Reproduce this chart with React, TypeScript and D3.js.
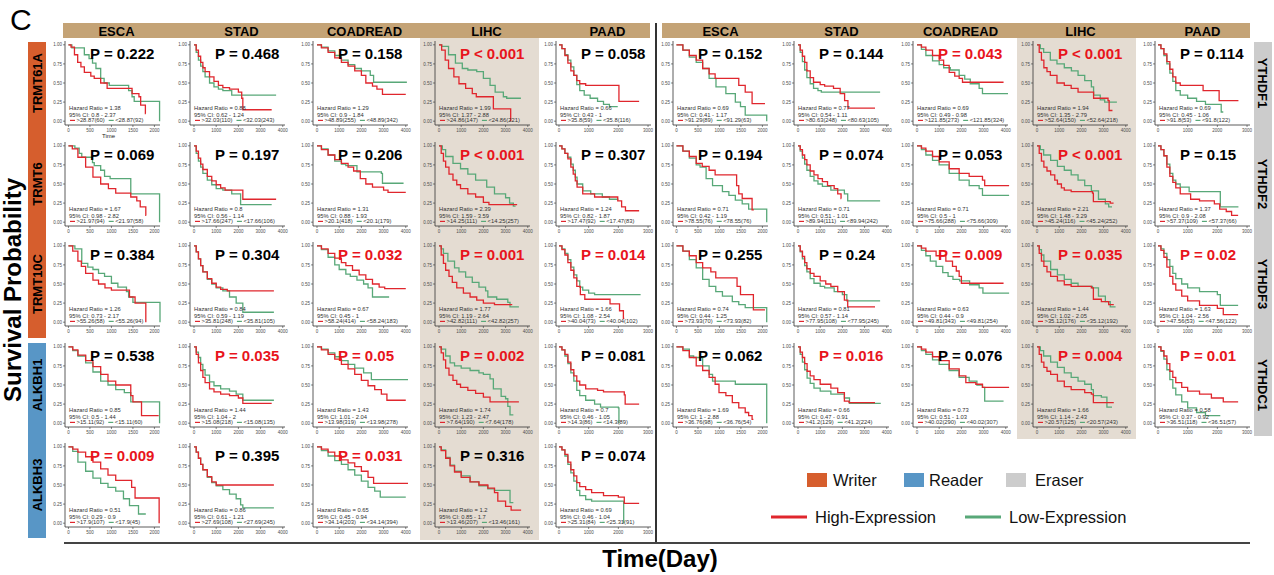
import React from "react";
import * as d3 from "d3";

// survival grid: m1A regulators x GI cancers
const cancers = ["ESCA", "STAD", "COADREAD", "LIHC", "PAAD"];
const leftGenes = ["TRMT61A", "TRMT6", "TRMT10C", "ALKBH1", "ALKBH3"];
const rightGenes = ["YTHDF1", "YTHDF2", "YTHDF3", "YTHDC1"];
const roles = ["Writer", "Reader", "Eraser"];
const groups = ["High-Expression", "Low-Expression"];

const xTickVals: Record<string, number[]> = {
  ESCA: [0, 500, 1000, 1500, 2000],
  STAD: [0, 1000, 2000, 3000, 4000],
  COADREAD: [0, 1000, 2000, 3000, 4000],
  LIHC: [0, 1000, 2000, 3000, 4000],
  PAAD: [0, 1000, 2000, 3000],
};
const yTickVals = [0, 0.25, 0.5, 0.75, 1];

const leftP = [
  ["0.222", "0.468", "0.158", "<0.001", "0.058"],
  ["0.069", "0.197", "0.206", "<0.001", "0.307"],
  ["0.384", "0.304", "0.032", "0.001", "0.014"],
  ["0.538", "0.035", "0.05", "0.002", "0.081"],
  ["0.009", "0.395", "0.031", "0.316", "0.074"],
];
const rightP = [
  ["0.152", "0.144", "0.043", "<0.001", "0.114"],
  ["0.194", "0.074", "0.053", "<0.001", "0.15"],
  ["0.255", "0.24", "0.009", "0.035", "0.02"],
  ["0.062", "0.016", "0.076", "0.004", "0.01"],
];

const leftHR = [
  ["1.38", "0.88", "1.29", "1.99", "0.66"],
  ["1.67", "0.8", "1.31", "2.39", "1.24"],
  ["1.26", "0.84", "0.67", "1.77", "1.66"],
  ["0.85", "1.44", "1.43", "1.74", "0.7"],
  ["0.51", "0.86", "0.65", "1.2", "0.69"],
];
const rightHR = [
  ["0.69", "0.77", "0.69", "1.94", "0.69"],
  ["0.71", "0.71", "0.71", "2.21", "1.37"],
  ["0.74", "0.81", "0.63", "1.44", "1.63"],
  ["1.69", "0.66", "0.73", "1.66", "0.58"],
];

const leftCI = [
  ["0.8 - 2.37", "0.62 - 1.24", "0.9 - 1.84", "1.37 - 2.88", "0.43 - 1"],
  ["0.98 - 2.82", "0.56 - 1.14", "0.88 - 1.93", "1.59 - 3.59", "0.82 - 1.87"],
  ["0.73 - 2.17", "0.59 - 1.19", "0.45 - 1", "1.19 - 2.64", "1.08 - 2.54"],
  ["0.5 - 1.44", "1.04 - 2", "1.01 - 2.04", "1.23 - 2.47", "0.46 - 1.05"],
  ["0.29 - 0.9", "0.61 - 1.21", "0.45 - 0.94", "0.85 - 1.7", "0.46 - 1.04"],
];
const rightCI = [
  ["0.41 - 1.17", "0.54 - 1.11", "0.49 - 0.98", "1.35 - 2.79", "0.45 - 1.06"],
  ["0.42 - 1.19", "0.51 - 1.01", "0.5 - 1", "1.48 - 3.29", "0.9 - 2.08"],
  ["0.44 - 1.25", "0.57 - 1.14", "0.44 - 0.9", "1.02 - 2.05", "1.04 - 2.56"],
  ["1 - 2.88", "0.47 - 0.91", "0.51 - 1.03", "1.14 - 2.43", "0.37 - 0.92"],
];

const leftCut = [
  ["28.87", "32.03", "48.89", "24.86", "35.8"],
  ["21.97", "17.66", "20.1", "14.25", "17.47"],
  ["55.26", "35.81", "58.24", "42.82", "40.04"],
  ["15.11", "15.08", "13.98", "7.64", "14.3"],
  ["17.9", "27.69", "34.14", "13.46", "25.31"],
];
const rightCut = [
  ["91.29", "80.63", "121.85", "52.64", "91.8"],
  ["78.55", "89.94", "75.66", "45.24", "57.37"],
  ["73.93", "77.95", "49.81", "35.12", "47.56"],
  ["36.76", "41.2", "40.02", "20.57", "36.51"],
];

// [high n, low n]
const leftN = [
  [[60, 92], [110, 243], [255, 342], [147, 221], [59, 116]],
  [[94, 58], [247, 106], [418, 179], [111, 257], [92, 83]],
  [[58, 94], [248, 105], [414, 183], [111, 257], [73, 102]],
  [[92, 60], [218, 135], [319, 278], [190, 178], [86, 89]],
  [[107, 45], [108, 245], [203, 394], [207, 161], [84, 91]],
];
const rightN = [
  [[89, 63], [248, 105], [273, 324], [150, 218], [53, 122]],
  [[76, 76], [111, 242], [288, 309], [116, 252], [109, 66]],
  [[70, 82], [108, 245], [343, 254], [176, 192], [53, 122]],
  [[98, 54], [129, 224], [290, 307], [125, 243], [118, 57]],
];

// KM steps: flat [day, survival, day, survival, ...], start at (0,1)
const TRMT61A_high = [
  [60, .97, 140, .87, 215, .77, 290, .71, 370, .64, 520, .59, 600, .56, 750, .5, 900, .43, 1480, .36, 1640, .32, 1680, .21, 1790, .1, 1800, .1],
  [100, .93, 200, .85, 300, .77, 400, .7, 500, .65, 700, .58, 900, .52, 1100, .47, 1300, .44, 1600, .42, 2000, .38, 2150, .3, 2200, .15, 3500, .15],
  [200, .96, 500, .9, 800, .83, 1100, .77, 1400, .72, 1700, .66, 2000, .6, 2200, .5, 2500, .46, 2700, .42, 2950, .35, 4000, .35],
  [120, .93, 280, .8, 430, .69, 670, .58, 900, .49, 1200, .43, 1500, .36, 1680, .32, 2450, .16, 3230, .16, 3230, 0],
  [100, .95, 200, .86, 300, .76, 400, .66, 500, .6, 600, .53, 700, .49, 900, .47, 2000, .47, 2020, .26, 2700, .26],
];
const TRMT61A_low = [
  [80, .96, 370, .87, 480, .82, 560, .76, 640, .69, 750, .56, 830, .5, 950, .47, 1400, .4, 1480, .32, 1530, .26, 2120, .26, 2120, 0],
  [100, .9, 200, .8, 300, .72, 400, .65, 500, .58, 700, .5, 900, .45, 1100, .42, 1300, .4, 1700, .34, 3700, .34],
  [200, .97, 500, .92, 800, .86, 1100, .8, 1400, .74, 1700, .69, 2000, .66, 2400, .6, 2550, .51, 4050, .51],
  [120, .98, 430, .87, 740, .76, 1050, .69, 1300, .67, 1700, .65, 2000, .56, 2300, .47, 2530, .38, 2900, .32, 3050, .3, 3690, .3],
  [100, .95, 200, .87, 300, .8, 400, .71, 500, .6, 600, .48, 700, .4, 850, .34, 1050, .3, 1300, .26, 1500, .22, 1700, .19, 1980, .19],
];
const TRMT6_high = [
  [90, .96, 220, .85, 400, .72, 570, .59, 750, .5, 930, .44, 1100, .38, 1420, .38, 1450, .33, 1590, .28, 1670, .2, 1800, .09, 1810, .09],
  [100, .93, 200, .84, 300, .76, 400, .69, 600, .6, 800, .54, 1000, .49, 1200, .45, 1400, .42, 1800, .42, 2200, .3, 3700, .3],
  [200, .95, 500, .88, 800, .82, 1100, .77, 1400, .72, 1650, .67, 1950, .57, 2200, .5, 2500, .46, 3000, .42, 3200, .39, 4000, .39],
  [100, .9, 200, .8, 300, .72, 450, .63, 630, .55, 800, .49, 970, .44, 1300, .37, 1650, .33, 2000, .26, 2250, .23, 3520, .23],
  [100, .96, 200, .9, 300, .83, 400, .72, 480, .63, 550, .54, 610, .46, 800, .37, 1200, .33, 1980, .28, 2110, .2, 2240, .15, 2700, .15],
];
const TRMT6_low = [
  [150, .97, 250, .9, 310, .85, 560, .78, 600, .74, 750, .68, 840, .6, 970, .57, 1420, .57, 1450, .37, 2120, .37, 2120, 0],
  [100, .9, 200, .8, 300, .72, 400, .64, 600, .55, 800, .49, 1000, .44, 1300, .42, 1700, .37, 2100, .23, 3500, .23],
  [200, .96, 500, .88, 800, .8, 1100, .76, 1300, .74, 1800, .66, 2900, .64, 2950, .51, 3900, .51],
  [150, .95, 300, .86, 630, .77, 970, .7, 1300, .63, 1650, .55, 2150, .46, 2500, .37, 3000, .32, 3180, .25, 3350, .21, 3450, .21],
  [100, .96, 200, .9, 290, .85, 400, .76, 480, .68, 550, .59, 610, .5, 800, .41, 1070, .37, 1460, .33, 1700, .3, 2000, .3],
];
const TRMT10C_high = [
  [100, .93, 220, .8, 300, .73, 400, .64, 570, .55, 700, .5, 850, .45, 1000, .42, 1400, .42, 1420, .33, 1550, .25, 1800, .25, 1800, 0],
  [100, .92, 200, .83, 300, .74, 400, .66, 600, .57, 800, .51, 1000, .46, 1200, .43, 1500, .41, 3600, .41],
  [200, .96, 500, .9, 800, .84, 1100, .78, 1300, .74, 1600, .68, 1900, .62, 2200, .56, 2500, .5, 2800, .46, 3050, .44, 4000, .44],
  [100, .88, 200, .77, 300, .68, 450, .6, 600, .52, 800, .45, 1100, .38, 1400, .33, 1700, .29, 2000, .25, 2500, .23, 3300, .23],
  [100, .95, 200, .88, 300, .78, 400, .68, 500, .58, 600, .47, 720, .36, 870, .3, 1480, .3, 1720, .24, 2040, .15, 2170, .05, 2200, .05],
];
const TRMT10C_low = [
  [150, .96, 310, .77, 450, .72, 570, .69, 700, .64, 840, .6, 1000, .51, 1150, .46, 1350, .4, 1400, .33, 1500, .26, 2130, .26, 2130, 0],
  [100, .92, 200, .83, 300, .74, 400, .66, 600, .56, 800, .5, 1000, .45, 1300, .41, 1600, .33, 1900, .25, 2200, .13, 3600, .13],
  [200, .95, 500, .85, 800, .75, 1000, .69, 1300, .63, 1500, .6, 1800, .55, 2100, .5, 2300, .45, 2500, .33, 3250, .33],
  [100, .96, 200, .9, 400, .8, 700, .71, 900, .66, 1200, .59, 1500, .52, 1800, .46, 2100, .41, 2200, .33, 2600, .3, 3100, .26, 3200, .2, 3600, .2],
  [100, .96, 200, .9, 300, .82, 400, .72, 500, .62, 600, .54, 700, .46, 800, .42, 1000, .38, 1200, .36, 2750, .36],
];
const ALKBH1_high = [
  [100, .96, 220, .89, 400, .82, 570, .74, 750, .64, 920, .55, 1100, .5, 1430, .5, 1450, .36, 1500, .28, 1650, .28, 1700, .1, 2100, .1],
  [100, .9, 200, .79, 300, .69, 400, .6, 500, .53, 700, .45, 900, .41, 1200, .38, 1600, .36, 2000, .33, 2200, .26, 3500, .26],
  [200, .96, 500, .9, 800, .84, 1100, .77, 1400, .71, 1700, .64, 2000, .56, 2300, .49, 2600, .44, 2900, .38, 3150, .3, 4000, .3],
  [100, .92, 200, .83, 300, .72, 450, .63, 630, .56, 800, .51, 970, .47, 1300, .43, 1650, .39, 2000, .34, 2300, .28, 3600, .28],
  [100, .96, 200, .9, 300, .8, 400, .7, 500, .62, 600, .55, 700, .5, 900, .45, 1300, .43, 1500, .41, 2200, .37, 2230, .25, 2700, .25],
];
const ALKBH1_low = [
  [100, .95, 220, .88, 400, .79, 570, .67, 750, .55, 920, .5, 1100, .44, 1300, .4, 1450, .28, 2120, .28, 2120, 0],
  [100, .93, 200, .86, 300, .77, 400, .7, 500, .63, 700, .54, 900, .49, 1200, .45, 1600, .42, 1900, .38, 2200, .3, 3600, .3],
  [200, .97, 500, .92, 800, .87, 1100, .82, 1400, .77, 1700, .72, 2100, .66, 2450, .57, 4100, .57],
  [100, .97, 300, .88, 500, .79, 700, .75, 1000, .72, 1400, .69, 1800, .66, 2000, .64, 2300, .58, 2450, .45, 2800, .35, 3000, .32, 3100, .22, 3200, .11, 3350, .11],
  [100, .96, 200, .88, 300, .78, 400, .66, 500, .55, 600, .43, 700, .36, 900, .3, 1200, .25, 1400, .21, 2000, .2, 2020, 0],
];
const ALKBH3_high = [
  [100, .97, 220, .93, 400, .87, 570, .8, 750, .71, 920, .63, 1100, .56, 1430, .56, 1470, .47, 1550, .33, 2110, .33, 2110, 0],
  [100, .93, 200, .85, 300, .77, 400, .7, 600, .61, 800, .54, 1000, .5, 3600, .5],
  [200, .97, 500, .93, 800, .88, 1100, .83, 1400, .79, 1700, .74, 2000, .68, 2300, .6, 2550, .52, 4100, .52],
  [100, .95, 300, .85, 500, .75, 700, .67, 1000, .6, 1400, .54, 1800, .5, 2200, .46, 2500, .4, 2650, .29, 3000, .22, 3250, .17, 3700, .17],
  [100, .96, 200, .9, 300, .8, 400, .7, 500, .62, 600, .53, 700, .48, 900, .44, 1100, .4, 1500, .36, 2000, .34, 2200, .26, 2700, .26],
];
const ALKBH3_low = [
  [100, .94, 220, .8, 400, .68, 570, .59, 750, .52, 920, .47, 1100, .42, 1280, .32, 1420, .23, 1630, .12, 1800, .12],
  [100, .93, 200, .85, 300, .77, 400, .7, 600, .6, 800, .53, 1000, .49, 1300, .44, 1600, .38, 1900, .32, 2100, .24, 2200, .2, 3600, .2],
  [200, .95, 500, .88, 800, .82, 1100, .77, 1400, .7, 1700, .63, 2000, .55, 2300, .47, 2600, .42, 2850, .34, 4000, .34],
  [100, .96, 300, .86, 500, .76, 700, .68, 1000, .62, 1400, .54, 1800, .49, 2200, .45, 2500, .43, 3180, .43, 3200, .27, 3350, .27],
  [100, .96, 200, .88, 300, .77, 400, .66, 500, .55, 600, .43, 700, .36, 900, .31, 1100, .29, 2180, .29, 2180, 0],
];
const YTHDF1_high = [
  [150, .93, 300, .86, 460, .8, 610, .69, 760, .62, 900, .56, 1370, .56, 1450, .47, 1600, .38, 1760, .23, 2060, .23],
  [100, .93, 200, .85, 300, .77, 400, .66, 550, .57, 700, .51, 1000, .48, 1200, .46, 1600, .43, 1900, .36, 2100, .27, 2250, .17, 3470, .17],
  [200, .97, 400, .93, 700, .86, 1000, .8, 1200, .73, 1450, .64, 1700, .59, 1900, .56, 2050, .51, 3900, .51],
  [100, .9, 200, .8, 310, .7, 450, .65, 600, .6, 900, .5, 1230, .47, 1540, .43, 1850, .38, 2500, .38, 2550, .3, 3200, .27, 3250, .14, 3400, .14],
  [100, .95, 200, .88, 300, .78, 400, .68, 500, .58, 600, .5, 750, .47, 1500, .47, 1520, .4, 2040, .4, 2060, .27, 2710, .27],
];
const YTHDF1_low = [
  [150, .93, 300, .84, 460, .77, 610, .69, 760, .56, 920, .45, 1150, .36, 1370, .25, 1490, .19, 1600, .08, 2100, .08, 2100, 0],
  [100, .9, 200, .78, 300, .67, 400, .57, 550, .49, 700, .43, 900, .4, 1050, .38, 3700, .38],
  [200, .94, 400, .86, 700, .79, 1000, .74, 1200, .7, 1500, .67, 1900, .6, 2150, .55, 2400, .49, 2800, .43, 2950, .36, 4100, .36],
  [150, .95, 300, .9, 600, .8, 900, .75, 1230, .7, 1550, .66, 1850, .6, 2150, .53, 2450, .45, 2550, .34, 2850, .28, 3050, .25, 3600, .25],
  [100, .95, 200, .86, 300, .75, 400, .63, 500, .52, 600, .4, 750, .34, 1000, .3, 1300, .26, 1600, .22, 2100, .22, 2130, .12, 2200, .12],
];
const YTHDF2_high = [
  [150, .93, 300, .86, 460, .77, 600, .73, 760, .68, 900, .62, 1370, .62, 1400, .48, 1450, .37, 1530, .31, 1700, .31, 1760, .16, 1800, .16],
  [100, .95, 200, .88, 300, .82, 400, .75, 550, .67, 720, .62, 900, .57, 1100, .53, 1330, .48, 1630, .44, 1790, .37, 1940, .31, 1950, .31],
  [200, .97, 400, .93, 700, .86, 1000, .79, 1450, .7, 1900, .64, 2350, .6, 2950, .55, 3050, .48, 4150, .48],
  [100, .9, 200, .8, 310, .72, 450, .67, 615, .62, 800, .55, 920, .5, 1100, .45, 1230, .42, 1540, .4, 2500, .38, 2540, .27, 3300, .25, 3450, .25],
  [100, .95, 200, .87, 300, .72, 400, .6, 500, .52, 600, .45, 750, .37, 1100, .3, 1400, .28, 1900, .24, 2080, .17, 2300, .14, 2480, .09, 2700, .09],
];
const YTHDF2_low = [
  [150, .93, 300, .84, 460, .75, 550, .72, 690, .57, 840, .48, 1070, .4, 1220, .35, 1370, .29, 1530, .24, 1680, .17, 2100, .17, 2100, 0],
  [100, .93, 200, .84, 300, .76, 400, .68, 550, .6, 720, .54, 900, .5, 1100, .47, 1480, .42, 2090, .37, 2240, .28, 3700, .28],
  [200, .95, 400, .88, 700, .81, 1000, .75, 1450, .64, 1900, .55, 2350, .48, 2800, .44, 2950, .35, 4150, .35],
  [150, .95, 300, .88, 615, .81, 920, .73, 1230, .68, 1540, .62, 1850, .55, 2150, .48, 2450, .41, 2770, .3, 3080, .24, 3230, .2, 3380, .2],
  [100, .95, 200, .87, 300, .76, 400, .64, 500, .55, 600, .5, 750, .46, 1050, .4, 2080, .4, 2100, .2, 2710, .2],
];
const YTHDF3_high = [
  [150, .93, 300, .87, 460, .78, 610, .71, 800, .66, 915, .58, 1370, .58, 1410, .47, 1490, .36, 1760, .36, 1790, .16, 2060, .16],
  [100, .93, 200, .86, 300, .78, 400, .7, 550, .64, 720, .6, 1000, .54, 1250, .5, 1480, .47, 1790, .4, 2090, .29, 2240, .2, 3470, .2],
  [200, .97, 400, .93, 860, .87, 1300, .8, 1600, .73, 1770, .67, 1900, .6, 2000, .51, 3900, .51],
  [100, .9, 200, .8, 310, .73, 450, .66, 615, .6, 920, .54, 1230, .49, 1540, .47, 2450, .45, 2540, .3, 2900, .27, 3230, .23, 3460, .23],
  [100, .94, 200, .85, 300, .72, 400, .6, 500, .5, 600, .42, 800, .34, 1000, .28, 1400, .22, 2000, .18, 2200, .1, 2700, .1],
];
const YTHDF3_low = [
  [150, .93, 300, .82, 460, .71, 610, .56, 760, .47, 915, .4, 1070, .34, 1300, .27, 1450, .23, 1600, .19, 2100, .19, 2100, 0],
  [100, .92, 200, .83, 300, .74, 400, .66, 550, .57, 720, .51, 1000, .47, 1200, .45, 1630, .4, 2000, .36, 2200, .28, 3700, .28],
  [200, .94, 400, .87, 600, .8, 860, .73, 1160, .65, 1400, .6, 1620, .56, 1920, .54, 2370, .49, 2800, .45, 2970, .38, 4150, .38],
  [100, .95, 200, .88, 310, .8, 615, .69, 920, .62, 1230, .56, 1540, .51, 1850, .47, 2500, .45, 2770, .34, 3080, .27, 3300, .2, 3540, .2],
  [100, .96, 200, .9, 300, .82, 400, .73, 500, .64, 600, .57, 800, .5, 1000, .45, 1400, .4, 2000, .36, 2100, .22, 2700, .22],
];
const YTHDC1_high = [
  [150, .95, 300, .86, 460, .75, 610, .69, 760, .6, 900, .51, 990, .4, 1150, .36, 1300, .27, 1450, .2, 1600, .14, 1680, .1, 1760, .05, 1790, .05],
  [100, .93, 200, .86, 300, .78, 410, .68, 550, .62, 720, .57, 1000, .51, 1480, .46, 1790, .4, 2090, .29, 2300, .27, 3470, .27],
  [200, .97, 400, .93, 700, .87, 1000, .82, 1450, .71, 1900, .62, 2200, .53, 2650, .51, 2950, .47, 4150, .47],
  [100, .9, 200, .8, 310, .73, 450, .68, 615, .64, 920, .55, 1230, .48, 1540, .44, 2150, .4, 2450, .38, 2540, .27, 3460, .27],
  [100, .95, 200, .88, 300, .78, 400, .68, 500, .6, 600, .53, 800, .47, 1000, .42, 1400, .38, 1800, .33, 2200, .28, 2700, .28],
];
const YTHDC1_low = [
  [150, .97, 300, .88, 400, .86, 560, .86, 610, .75, 760, .64, 840, .55, 1220, .55, 1370, .51, 2100, .51, 2100, 0],
  [100, .9, 200, .8, 300, .7, 410, .59, 550, .52, 720, .46, 1000, .42, 1480, .38, 2090, .33, 2320, .26, 3700, .25],
  [200, .95, 400, .9, 700, .83, 1000, .77, 1450, .69, 1900, .6, 2350, .55, 2700, .5, 2950, .47, 3050, .29, 3900, .29],
  [150, .95, 300, .88, 615, .8, 920, .73, 1230, .66, 1540, .6, 1850, .55, 2150, .51, 2450, .44, 2540, .36, 2900, .34, 3150, .21, 3380, .21],
  [100, .94, 200, .84, 300, .7, 400, .57, 500, .46, 600, .37, 800, .28, 1000, .2, 1300, .14, 1600, .1, 2100, .1],
];

const leftHigh = [TRMT61A_high, TRMT6_high, TRMT10C_high, ALKBH1_high, ALKBH3_high];
const leftLow = [TRMT61A_low, TRMT6_low, TRMT10C_low, ALKBH1_low, ALKBH3_low];
const rightHigh = [YTHDF1_high, YTHDF2_high, YTHDF3_high, YTHDC1_high];
const rightLow = [YTHDF1_low, YTHDF2_low, YTHDF3_low, YTHDC1_low];

// layout
const FONT = "'Liberation Sans', Arial, sans-serif";
const RED = "#e0262d";
const GREEN = "#58a878";
const roleColor: Record<string, string> = { Writer: "#d65e2d", Reader: "#5896c6", Eraser: "#cccccc" };
const HEADER = "#c4a376";
const SHADE = "#e4dcd2";
const PW = 95;
const PH = 84;
const leftColX = [65, 190, 313, 435, 556];
const rightColX = [673, 794, 913, 1033, 1155];
const rowAxisY = [125, 226, 326, 427, 527];
const xDomain: Record<string, [number, number]> = {
  ESCA: [-80, 2130],
  STAD: [-180, 4100],
  COADREAD: [-180, 4100],
  LIHC: [-180, 4100],
  PAAD: [-100, 3100],
};

const measureCtx = typeof document !== "undefined" ? document.createElement("canvas").getContext("2d") : null;
function textWidth(s: string, size: number) {
  if (!measureCtx) return s.length * size * 0.55;
  measureCtx.font = `${size}px 'Liberation Sans'`;
  return measureCtx.measureText(s).width;
}

function toPoints(flat: number[]): [number, number][] {
  const pts: [number, number][] = [[0, 1]];
  for (let i = 0; i < flat.length; i += 2) pts.push([flat[i], flat[i + 1]]);
  return pts;
}

function Panel(props: any) {
  const { x0, axisY, cancer, p, hr, ci, cut, n, hi, lo, timeLabel } = props;
  const x = d3.scaleLinear().domain(xDomain[cancer]).range([x0, x0 + PW]);
  const y = d3.scaleLinear().domain([-0.05, 1.05]).range([axisY, axisY - PH]);
  const line = d3
    .line<[number, number]>()
    .x((d) => x(d[0]))
    .y((d) => y(d[1]))
    .curve(d3.curveStepAfter);

  const less = p.startsWith("<");
  const pNum = less ? 0 : +p;
  const pLabel = less ? `P < ${p.slice(1)}` : `P = ${p}`;
  const pColor = less || pNum <= 0.05 ? "#e8141c" : "#000";

  const fs = 5.8;
  const hiLab = `>${cut}(${n[0]})`;
  const loLab = `<${cut}(${n[1]})`;
  const legY = axisY - 4.6;
  const hiTextX = x0 + 11.5;
  const loDashX = hiTextX + textWidth(hiLab, fs) + 4;
  const loTextX = loDashX + 6.5;

  return (
    <g>
      <path d={line(toPoints(lo)) || ""} fill="none" stroke={GREEN} strokeWidth={1.3} />
      <path d={line(toPoints(hi)) || ""} fill="none" stroke={RED} strokeWidth={1.3} />
      <line x1={x0} x2={x0} y1={axisY} y2={axisY - PH} stroke="#333" strokeWidth={0.8} />
      <line x1={x0} x2={x0 + PW} y1={axisY} y2={axisY} stroke="#333" strokeWidth={0.8} />
      {yTickVals.map((v) => (
        <g key={"y" + v}>
          <line x1={x0 - 2} x2={x0} y1={y(v)} y2={y(v)} stroke="#333" strokeWidth={0.6} />
          <text x={x0 - 3} y={y(v) + 1.6} fontSize={4.5} textAnchor="end" fill="#4d4d4d" fontFamily={FONT}>
            {v.toFixed(2)}
          </text>
        </g>
      ))}
      {xTickVals[cancer].map((v) => (
        <g key={"x" + v}>
          <line x1={x(v)} x2={x(v)} y1={axisY} y2={axisY + 2} stroke="#333" strokeWidth={0.6} />
          <text x={x(v)} y={axisY + 6.5} fontSize={4.5} textAnchor="middle" fill="#4d4d4d" fontFamily={FONT}>
            {v}
          </text>
        </g>
      ))}
      {timeLabel && (
        <text x={x0 + PW / 2 - 4} y={axisY + 12.5} fontSize={6} textAnchor="middle" fill="#222" fontFamily={FONT}>
          Time
        </text>
      )}
      <text x={x0 + 25} y={axisY - 66} fontSize={15} fontWeight="bold" fill={pColor} fontFamily={FONT}>
        {pLabel}
      </text>
      <text x={x0 + 4} y={axisY - 15.5} fontSize={fs} fill="#333" fontFamily={FONT}>
        {`Hazard Ratio = ${hr}`}
      </text>
      <text x={x0 + 4} y={axisY - 8} fontSize={fs} fill="#333" fontFamily={FONT}>
        {`95% CI: ${ci}`}
      </text>
      <line x1={x0 + 5} x2={x0 + 10} y1={legY} y2={legY} stroke={RED} strokeWidth={1.2} />
      <text x={hiTextX} y={axisY - 2.6} fontSize={fs} fill="#333" fontFamily={FONT}>
        {hiLab}
      </text>
      <line x1={loDashX} x2={loDashX + 5} y1={legY} y2={legY} stroke={GREEN} strokeWidth={1.2} />
      <text x={loTextX} y={axisY - 2.6} fontSize={fs} fill="#333" fontFamily={FONT}>
        {loLab}
      </text>
    </g>
  );
}

export default function App() {
  const rowCenter = (r: number) => rowAxisY[r] - 42;
  return (
    <svg
      width={1274}
      height={575}
      style={{ position: "absolute", left: 0, top: 0, background: "#fff" }}
      fontFamily={FONT}
    >
      <rect x={0} y={0} width={1274} height={575} fill="#fff" />
      <text x={10} y={30} fontSize={30} fill="#000">C</text>

      {/* LIHC shading */}
      <rect x={420} y={38} width={119} height={502} fill={SHADE} />
      <rect x={1017} y={38} width={119} height={401} fill={SHADE} />

      {/* column headers */}
      <rect x={63} y={23} width={587} height={15} fill={HEADER} />
      <rect x={662} y={23} width={588} height={15} fill={HEADER} />
      {cancers.map((c, i) => (
        <g key={c}>
          <text x={leftColX[i] + PW / 2 + 4} y={35.5} fontSize={13} fontWeight="bold" textAnchor="middle">
            {c}
          </text>
          <text x={rightColX[i] + PW / 2} y={35.5} fontSize={13} fontWeight="bold" textAnchor="middle">
            {c}
          </text>
        </g>
      ))}

      {/* left row labels */}
      <rect x={28} y={42} width={18} height={296} fill={roleColor.Writer} />
      <rect x={28} y={343} width={18} height={195} fill={roleColor.Reader} />
      {leftGenes.map((g, r) => (
        <text
          key={g}
          transform={`translate(37.5,${rowCenter(r)}) rotate(-90)`}
          fontSize={13}
          fontWeight="bold"
          textAnchor="middle"
          dy="0.35em"
          fill="#000"
        >
          {g}
        </text>
      ))}
      {/* right row labels */}
      <rect x={1254} y={42} width={18} height={394} fill={roleColor.Eraser} />
      {rightGenes.map((g, r) => (
        <text
          key={g}
          transform={`translate(1263,${rowCenter(r)}) rotate(90)`}
          fontSize={13}
          fontWeight="bold"
          textAnchor="middle"
          dy="0.35em"
          fill="#000"
        >
          {g}
        </text>
      ))}

      {/* panels */}
      {leftGenes.map((g, r) =>
        cancers.map((c, ci) => (
          <Panel
            key={g + c}
            x0={leftColX[ci]}
            axisY={rowAxisY[r]}
            cancer={c}
            p={leftP[r][ci]}
            hr={leftHR[r][ci]}
            ci={leftCI[r][ci]}
            cut={leftCut[r][ci]}
            n={leftN[r][ci]}
            hi={leftHigh[r][ci]}
            lo={leftLow[r][ci]}
            timeLabel={r === 0 && ci === 0}
          />
        ))
      )}
      {rightGenes.map((g, r) =>
        cancers.map((c, ci) => (
          <Panel
            key={g + c}
            x0={rightColX[ci]}
            axisY={rowAxisY[r]}
            cancer={c}
            p={rightP[r][ci]}
            hr={rightHR[r][ci]}
            ci={rightCI[r][ci]}
            cut={rightCut[r][ci]}
            n={rightN[r][ci]}
            hi={rightHigh[r][ci]}
            lo={rightLow[r][ci]}
            timeLabel={false}
          />
        ))
      )}

      {/* dividers */}
      <line x1={656} x2={656} y1={23} y2={543} stroke="#333" strokeWidth={2} />
      <line x1={64} x2={1250} y1={543} y2={543} stroke="#444" strokeWidth={2} />

      {/* legend */}
      {roles.map((role, i) => {
        const lx = [807, 904, 1006][i];
        const tx = [833, 929, 1035][i];
        return (
          <g key={role}>
            <rect x={lx} y={473} width={20} height={14} fill={roleColor[role]} />
            <text x={tx} y={486} fontSize={16.5} fill="#111">
              {role}
            </text>
          </g>
        );
      })}
      {groups.map((gname, i) => {
        const lx = [771, 965][i];
        return (
          <g key={gname}>
            <line x1={lx} x2={lx + 36} y1={517} y2={517} stroke={i === 0 ? RED : GREEN} strokeWidth={3} />
            <text x={lx + 44} y={523} fontSize={16.5} fill="#111">
              {gname}
            </text>
          </g>
        );
      })}

      {/* axis titles */}
      <text transform="translate(21,290) rotate(-90)" fontSize={24} fontWeight="bold" textAnchor="middle">
        Survival Probability
      </text>
      <text x={660} y={567} fontSize={24} fontWeight="bold" textAnchor="middle">
        Time(Day)
      </text>
    </svg>
  );
}
